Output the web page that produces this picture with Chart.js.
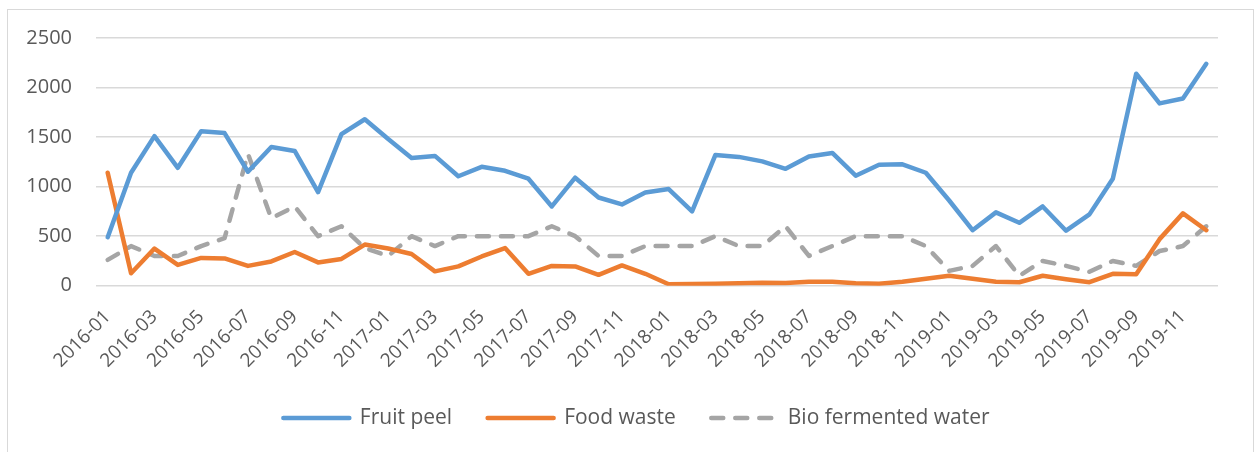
<!DOCTYPE html>
<html>
<head>
<meta charset="utf-8">
<script src="https://cdn.jsdelivr.net/npm/chart.js@4.4.1/dist/chart.umd.min.js"></script>
<style>
    body { margin: 0; background: #ffffff; }
    #moldura {
        position: absolute; left: 7px; top: 9px;
        width: 1245px; height: 470px;
        border: 1px solid #d9d9d9;
    }
    #grafico { position: absolute; left: 0; top: 0; }
</style>
</head>
<body>
<div id="moldura"></div>
<canvas id="grafico" width="1255" height="452"></canvas>
<script>
// Months on the x axis
const meses = [
    '2016-01', '2016-02', '2016-03', '2016-04', '2016-05', '2016-06', '2016-07', '2016-08', '2016-09', '2016-10', '2016-11', '2016-12',
    '2017-01', '2017-02', '2017-03', '2017-04', '2017-05', '2017-06', '2017-07', '2017-08', '2017-09', '2017-10', '2017-11', '2017-12',
    '2018-01', '2018-02', '2018-03', '2018-04', '2018-05', '2018-06', '2018-07', '2018-08', '2018-09', '2018-10', '2018-11', '2018-12',
    '2019-01', '2019-02', '2019-03', '2019-04', '2019-05', '2019-06', '2019-07', '2019-08', '2019-09', '2019-10', '2019-11', '2019-12'
];

// Series values
const fruitPeel = [
    490, 1140, 1510, 1190, 1560, 1540, 1150, 1400, 1360, 945, 1530, 1680,
    1480, 1290, 1310, 1105, 1200, 1160, 1080, 800, 1090, 890, 820, 940,
    975, 750, 1320, 1300, 1255, 1180, 1305, 1340, 1110, 1220, 1225, 1140,
    860, 560, 740, 635, 800, 555, 720, 1080, 2140, 1840, 1890, 2240
];
const foodWaste = [
    1140, 125, 375, 210, 280, 275, 200, 245, 340, 235, 270, 415,
    375, 320, 145, 195, 295, 380, 120, 200, 195, 110, 205, 120,
    15, 17, 20, 24, 30, 27, 40, 40, 25, 20, 40, 70,
    100, 70, 40, 35, 100, 65, 35, 120, 115, 470, 730, 560
];
const bioWater = [
    260, 400, 300, 300, 400, 480, 1330, 680, 800, 500, 600, 380,
    300, 500, 400, 500, 500, 500, 500, 600, 500, 300, 300, 400,
    400, 400, 500, 400, 400, 600, 300, 400, 500, 500, 500, 400,
    150, 200, 400, 100, 250, 200, 140, 250, 200, 350, 400, 600
];

// Y axis ticks
const yMin = 0;
const yMax = 2500;
const yStep = 500;

const nomes = ['Fruit peel', 'Food waste', 'Bio fermented water'];
const cores = ['#5b9bd5', '#ed7d31', '#a5a5a5'];

Chart.defaults.font.family = "'Open Sans', sans-serif";
Chart.defaults.font.size = 20;
Chart.defaults.color = '#595959';

function serie(nome, dados, cor, tracejado) {
    return {
        label: nome,
        data: dados,
        borderColor: cor,
        backgroundColor: cor,
        borderWidth: 4.5,
        borderCapStyle: 'round',
        borderJoinStyle: 'round',
        borderDash: tracejado ? [12, 12] : [],
        pointRadius: 0,
        tension: 0
    };
}

const ctx = document.getElementById('grafico').getContext('2d');
const grafico = new Chart(ctx, {
    type: 'line',
    data: {
        labels: meses,
        datasets: [
            serie(nomes[0], fruitPeel, cores[0], false),
            serie(nomes[1], foodWaste, cores[1], false),
            serie(nomes[2], bioWater, cores[2], true)
        ]
    },
    options: {
        responsive: false,
        animation: false,
        layout: { padding: { left: 18, right: 0, top: 38, bottom: 13.5 } },
        plugins: {
            tooltip: { enabled: false },
            legend: {
                position: 'bottom',
                labels: {
                    boxWidth: 66,
                    boxHeight: 0,
                    padding: 35.5,
                    color: '#595959',
                    font: { size: 21 }
                }
            }
        },
        scales: {
            x: {
                offset: true,
                grid: { display: false, drawTicks: false },
                border: { display: false },
                ticks: {
                    autoSkip: false,
                    minRotation: 45,
                    maxRotation: 45,
                    padding: 20,
                    color: '#595959',
                    font: { size: 19 },
                    // only every other month gets a label
                    callback: function (valor, indice) {
                        return indice % 2 === 0 ? meses[indice] : '';
                    }
                },
                afterFit: function (escala) { escala.height = 86.3; }
            },
            y: {
                min: yMin,
                max: yMax,
                grid: { color: '#d9d9d9', lineWidth: 1.5, drawTicks: false },
                border: { display: false },
                ticks: {
                    stepSize: yStep,
                    padding: 24,
                    color: '#595959',
                    callback: function (valor) { return String(valor); }
                },
                afterFit: function (escala) { escala.width = 78; }
            },
            // empty space on the right of the plot
            direita: {
                type: 'linear',
                position: 'right',
                grid: { display: false, drawTicks: false },
                border: { display: false },
                ticks: { display: false },
                afterFit: function (escala) { escala.width = 37; }
            }
        }
    }
});
</script>
</body>
</html>
